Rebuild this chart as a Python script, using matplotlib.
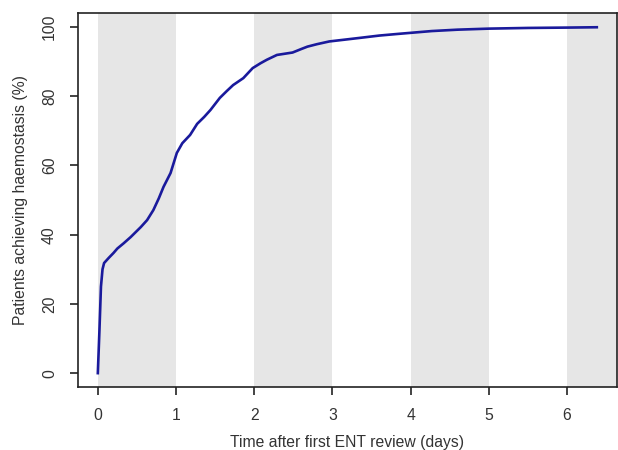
import matplotlib
matplotlib.use('Agg')
import matplotlib.pyplot as plt
import numpy as np

# cumulative % of patients achieving haemostasis vs days after first ENT review
days = [0.0, 0.02, 0.04, 0.06, 0.08, 0.14, 0.2, 0.25, 0.33, 0.42, 0.55, 0.63, 0.71,
        0.78, 0.84, 0.93, 1.01, 1.08, 1.18, 1.27, 1.36, 1.44, 1.56, 1.65, 1.73, 1.86,
        1.98, 2.08, 2.16, 2.29, 2.49, 2.6, 2.68, 2.8, 2.96, 3.15, 3.34, 3.6, 3.85,
        4.27, 4.6, 5.0, 5.5, 6.0, 6.38]
pct = [0.0, 12.0, 25.0, 30.0, 31.8, 33.3, 34.7, 36.0, 37.5, 39.3, 42.2, 44.2, 47.1,
       50.5, 53.8, 57.8, 63.6, 66.4, 68.8, 72.0, 74.0, 76.0, 79.5, 81.5, 83.2, 85.2,
       88.1, 89.5, 90.5, 91.9, 92.6, 93.6, 94.3, 95.0, 95.8, 96.3, 96.8, 97.5, 98.0,
       98.8, 99.2, 99.5, 99.7, 99.8, 99.9]
band_starts = [0, 2, 4, 6]

plt.rcParams['font.family'] = ['Liberation Sans', 'DejaVu Sans']
text_color = '#333333'
fs = 11.3

fig = plt.figure(figsize=(6.18, 4.5), dpi=100)
ax = fig.add_axes([0.126, 0.14, 0.872, 0.831])

xmax = max(days)
pad = xmax * 0.04
ax.set_xlim(-pad, xmax + pad)
ax.set_ylim(-4, 104)

for s in band_starts:
    ax.axvspan(s, s + 1, color='#e6e6e6', lw=0, zorder=0)

ax.plot(days, pct, color='#1a1a9c', lw=1.9, zorder=3, solid_joinstyle='round')

ax.set_xticks(range(0, 7))
ax.set_yticks(range(0, 101, 20))
ax.set_yticklabels([str(v) for v in range(0, 101, 20)], rotation=90, va='center')

for sp in ax.spines.values():
    sp.set_color('#222222')
    sp.set_linewidth(1.2)

ax.tick_params(direction='out', length=6, width=1.2, color='#222222',
               labelsize=fs, labelcolor=text_color, pad=9)

ax.set_xlabel('Time after first ENT review (days)', fontsize=fs, color=text_color, labelpad=9)
ax.set_ylabel('Patients achieving haemostasis (%)', fontsize=fs, color=text_color, labelpad=10)

fig.savefig('out.png', dpi=100)
